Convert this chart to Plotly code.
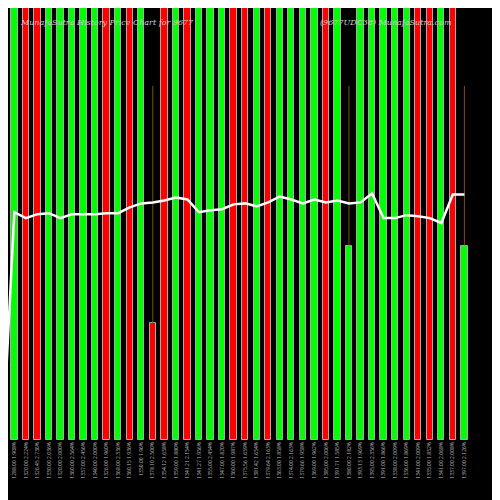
import plotly.graph_objects as go

labels = ["1268.00 1.649%","1288.00 1.908%","1320.00 2.224%","1326.45 2.736%","1330.00 2.036%","1320.00 2.000%",
"1360.00 2.564%","1337.00 2.456%","1340.00 2.000%","1326.00 1.960%","1368.00 2.336%","1360.15 1.936%",
"1350.00 1.96%","1378.10 2.500%","1354.12 1.658%","1359.00 1.880%","1341.21 2.154%","1341.27 1.956%",
"1355.00 2.454%","1347.00 1.820%","1360.00 1.987%","1375.56 1.659%","1381.42 1.654%","1379.64 2.163%",
"1363.00 1.858%","1374.00 2.163%","1379.66 1.958%","1369.00 1.962%","1385.00 2.006%","1391.71 1.585%",
"1380.00 2.182%","1393.13 1.969%","1395.00 2.356%","1391.00 1.866%","1338.00 2.009%","1336.00 1.869%",
"1341.00 2.009%","1335.00 1.852%","1341.00 2.068%","1337.00 2.008%","1397.00 2.126%"]
colors = ["none","G","R","R","G","G","G","G","G","R","G","R","G","R","R","G","R","G","G","G","R","R",
          "G","R","G","G","G","G","R","G","G","G","G","G","G","G","R","R","G","R","G"]
bar_values = [0]+[100]*40
bar_values[13] = 27
bar_values[30] = 45
bar_values[40] = 45
wick_top = 82
line_px = [440,208,214,210,209,214,210,210,210,209,209,203,199,198,196,193,195,208,206,205,200,199,202,198,
           192,195,199,195,198,196,199,198,189,214,214,211,212,214,219,190,190]
line_values = [(440-p)/440*100 for p in line_px]

x = list(range(41))
cmap = {"G":"#00ff00","R":"#ff0000","none":"rgba(0,0,0,0)"}
fig = go.Figure()
fig.add_trace(go.Bar(x=x, y=bar_values, width=0.55, marker=dict(color=[cmap[c] for c in colors],
              line=dict(color="#aaaaaa", width=1)), hoverinfo="skip"))
wx, wy = [], []
for i in (13, 30, 40):
    wx += [i, i, None]; wy += [bar_values[i], wick_top, None]
fig.add_trace(go.Scatter(x=wx, y=wy, mode="lines", line=dict(color="#7a5218", width=1)))
fig.add_trace(go.Scatter(x=x, y=line_values, mode="lines", line=dict(color="white", width=2.5)))
tf = dict(family="DejaVu Serif", size=8, color="#cccccc")
fig.update_layout(width=500, height=500, paper_bgcolor="black", plot_bgcolor="black", showlegend=False,
    margin=dict(l=0, r=0, t=0, b=68), bargap=0,
    xaxis=dict(range=[0.45, 43.78], tickmode="array", tickvals=x, ticktext=labels, tickangle=-90, automargin=False,
               tickfont=dict(size=5, color="#bbbbbb"), showgrid=False, zeroline=False, showline=False),
    yaxis=dict(range=[0, 100], visible=False, showgrid=False, automargin=False),
    annotations=[dict(x=0.02, y=0.982, xref="paper", yref="paper", xanchor="left", showarrow=False,
        text="<i>MunafaSutra History Price Chart for 9677</i>", font=tf),
        dict(x=0.62, y=0.982, xref="paper", yref="paper", xanchor="left", showarrow=False,
        text="<i>(9677UDC38) MunafaSutra.com</i>", font=tf)])
fig.write_html("out.html")
